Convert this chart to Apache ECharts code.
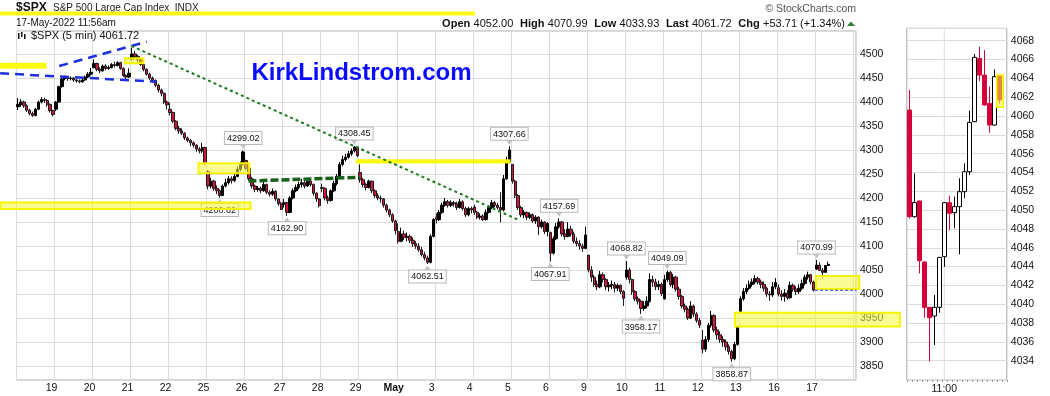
<!DOCTYPE html>
<html><head><meta charset="utf-8">
<script src="https://cdn.jsdelivr.net/npm/echarts@6/dist/echarts.min.js"></script>
<style>html,body{margin:0;padding:0;background:#fff}#c{width:1050px;height:396px}</style>
</head><body><div id="c"></div><script>
// ---- tick labels ----
const dayLabels = ['', '19','20','21','22','25','26','27','28','29','May','3','4','5','6','9','10','11','12','13','16','17'];
// ---- 30-minute candles [open, close, low, high], 13 per session ----
const d0418 = [[4390,4395,4383,4408],[4395,4400,4390,4406],[4400,4392,4388,4403],[4392,4383,4379,4395],[4383,4376,4372,4386],[4376,4372,4369,4380],[4372,4385,4370,4388],[4385,4400,4383,4403],[4400,4405,4397,4410],[4405,4403,4398,4409],[4403,4395,4390,4406],[4395,4382,4378,4397],[4382,4374,4370,4384]];
const d0419 = [[4385,4400,4381,4402],[4400,4432,4398,4434],[4432,4448,4430,4451],[4448,4452,4445,4455],[4452,4449,4444,4454],[4449,4450,4445,4453],[4450,4446,4442,4452],[4446,4444,4440,4449],[4444,4442,4439,4447],[4442,4446,4440,4449],[4446,4452,4444,4455],[4452,4458,4450,4462],[4458,4462,4455,4471]];
const d0420 = [[4472,4480,4470,4489],[4480,4468,4464,4482],[4468,4465,4460,4472],[4465,4475,4463,4478],[4475,4470,4466,4479],[4470,4472,4467,4476],[4472,4478,4470,4481],[4478,4476,4472,4484],[4476,4482,4474,4485],[4482,4470,4467,4484],[4470,4455,4452,4472],[4455,4452,4448,4458],[4452,4460,4450,4470]];
const d0421 = [[4489,4500,4486,4513],[4500,4495,4490,4506],[4495,4488,4484,4498],[4488,4478,4475,4490],[4478,4468,4464,4480],[4468,4458,4455,4470],[4458,4450,4446,4461],[4450,4445,4440,4453],[4445,4435,4431,4447],[4435,4425,4420,4438],[4425,4418,4412,4428],[4418,4400,4396,4420],[4400,4394,4384,4403]];
const d0422 = [[4385,4378,4372,4398],[4378,4360,4356,4380],[4360,4345,4341,4362],[4345,4340,4334,4350],[4340,4335,4331,4345],[4335,4325,4321,4337],[4325,4320,4316,4328],[4320,4315,4308,4323],[4315,4310,4305,4318],[4310,4302,4296,4312],[4302,4298,4293,4306],[4298,4305,4294,4315],[4305,4272,4268,4307]];
const d0425 = [[4255,4225,4218,4258],[4225,4235,4220,4242],[4235,4220,4215,4238],[4220,4215,4208,4226],[4215,4205,4200.82,4218],[4205,4225,4204,4228],[4225,4232,4222,4240],[4232,4240,4228,4246],[4240,4236,4230,4245],[4236,4245,4233,4250],[4245,4260,4243,4266],[4260,4270,4256,4276],[4270,4296,4268,4299.02]];
const d0426 = [[4278,4262,4258,4280],[4262,4240,4236,4265],[4240,4225,4220,4244],[4225,4218,4212,4228],[4218,4220,4213,4225],[4220,4215,4210,4224],[4215,4228,4213,4234],[4228,4212,4208,4230],[4212,4208,4203,4216],[4208,4214,4204,4220],[4214,4198,4194,4216],[4198,4188,4184,4200],[4188,4176,4175,4192]];
const d0427 = [[4187,4190,4180,4198],[4190,4170,4162.90,4192],[4170,4200,4168,4204],[4200,4215,4197,4220],[4215,4222,4212,4228],[4222,4228,4218,4234],[4228,4232,4222,4240],[4232,4225,4220,4236],[4225,4235,4223,4239],[4235,4228,4224,4238],[4228,4210,4205,4230],[4210,4198,4192,4212],[4198,4184,4180,4200]];
const d0428 = [[4222,4220,4212,4230],[4220,4200,4195,4222],[4200,4195,4188,4205],[4195,4215,4192,4218],[4215,4230,4212,4236],[4230,4245,4226,4250],[4245,4270,4242,4275],[4270,4280,4266,4288],[4280,4285,4276,4292],[4285,4292,4282,4298],[4292,4298,4288,4303],[4298,4306,4295,4308.45],[4306,4288,4285,4307]];
const d0429 = [[4253,4238,4232,4270],[4238,4228,4222,4242],[4228,4222,4216,4232],[4222,4235,4220,4238],[4235,4215,4210,4236],[4215,4205,4200,4218],[4205,4200,4195,4210],[4200,4198,4190,4205],[4198,4185,4180,4200],[4185,4175,4170,4188],[4175,4165,4160,4178],[4165,4152,4148,4168],[4152,4132,4124,4155]];
const d0502 = [[4130,4110,4105,4147],[4110,4125,4108,4138],[4125,4118,4112,4132],[4118,4120,4110,4128],[4120,4112,4106,4124],[4112,4105,4098,4118],[4105,4100,4094,4110],[4100,4092,4088,4106],[4092,4082,4078,4098],[4082,4075,4070,4088],[4075,4066,4062.51,4080],[4066,4120,4064,4124],[4120,4155,4118,4158]];
const d0503 = [[4160,4155,4147,4168],[4155,4170,4152,4175],[4170,4185,4167,4190],[4185,4192,4182,4200],[4192,4185,4180,4196],[4185,4190,4181,4195],[4190,4188,4182,4194],[4188,4180,4175,4192],[4180,4192,4178,4198],[4192,4178,4174,4195],[4178,4165,4160,4182],[4165,4178,4162,4182],[4178,4175,4168,4182]];
const d0504 = [[4181,4170,4165,4186],[4170,4160,4156,4173],[4160,4162,4155,4168],[4162,4155,4152,4166],[4155,4170,4153,4176],[4170,4180,4168,4185],[4180,4190,4177,4196],[4190,4185,4180,4194],[4185,4180,4176,4190],[4180,4175,4149,4212],[4175,4240,4172,4248],[4240,4275,4238,4286],[4275,4300,4272,4307.66]];
const d0505 = [[4270,4235,4230,4270],[4235,4205,4200,4238],[4205,4180,4175,4208],[4180,4165,4160,4184],[4165,4170,4158,4175],[4170,4160,4154,4172],[4160,4165,4156,4170],[4165,4152,4148,4168],[4152,4160,4146,4164],[4160,4140,4123,4162],[4140,4150,4136,4155],[4150,4130,4125,4152],[4130,4147,4120,4150]];
const d0506 = [[4128,4085,4067.91,4130],[4085,4115,4082,4120],[4115,4140,4112,4148],[4140,4150,4136,4157.69],[4150,4125,4120,4152],[4125,4120,4113,4135],[4120,4135,4118,4150],[4135,4125,4120,4142],[4125,4110,4105,4130],[4110,4105,4099,4118],[4105,4100,4092,4112],[4100,4095,4088,4105],[4095,4123,4093,4140]];
const d0509 = [[4081,4050,4045,4081],[4050,4035,4025,4058],[4035,4020,4015,4040],[4020,4015,4008,4028],[4015,4040,4012,4048],[4040,4030,4024,4045],[4030,4015,4008,4033],[4015,4018,4005,4025],[4018,4020,4010,4028],[4020,4012,4003,4025],[4012,4018,4006,4022],[4018,4005,4000,4020],[4005,3991,3975,4008]];
const d0510 = [[4035,4050,4030,4068.82],[4050,4030,4022,4055],[4030,4005,3998,4032],[4005,3990,3985,4008],[3990,3985,3978,3995],[3985,3970,3958.17,3988],[3970,3975,3965,3985],[3975,3985,3970,3995],[3985,4030,3982,4043],[4030,4025,4015,4038],[4025,4015,4008,4032],[4015,4020,4008,4028],[4020,4001,3996,4024]];
const d0511 = [[3990,4030,3988,4040],[4030,4045,4025,4049.09],[4045,4020,4015,4048],[4020,4035,4012,4042],[4035,4010,4005,4038],[4010,3995,3988,4015],[3995,3975,3970,3998],[3975,3968,3962,3980],[3968,3950,3946,3972],[3950,3975,3948,3985],[3975,3958,3952,3978],[3958,3945,3940,3962],[3945,3935,3929,3950]];
const d0512 = [[3904,3885,3876,3925],[3885,3905,3880,3912],[3905,3935,3900,3940],[3935,3955,3930,3964.8],[3955,3925,3920,3958],[3925,3915,3905,3932],[3915,3905,3898,3922],[3905,3900,3890,3912],[3900,3890,3882,3905],[3890,3880,3874,3895],[3880,3865,3858.87,3884],[3865,3895,3862,3900],[3895,3930,3892,3934]];
const d0513 = [[3964,3990,3963.9,3995],[3990,4005,3986,4012],[4005,4012,4000,4020],[4012,4020,4008,4028],[4020,4025,4015,4032],[4025,4032,4020,4038.88],[4032,4025,4020,4036],[4025,4020,4012,4030],[4020,4012,4005,4026],[4012,4000,3994,4015],[4000,3998,3986,4006],[3998,4015,3994,4025],[4015,4024,4010,4033]];
const d0516 = [[4013,4000,3995,4020],[4000,3995,3986,4008],[3995,4002,3984,4010],[4002,3992,3988,4008],[3992,4018,3990,4026],[4018,4010,4005,4022],[4010,4005,3998,4016],[4005,4012,4000,4020],[4012,4022,4008,4030],[4022,4035,4018,4040],[4035,4040,4030,4046.46],[4040,4025,4020,4042],[4025,4008,4005,4028]];
const d0517 = [[4052,4060,4050,4070.99],[4060,4049.3,4049,4066],[4049.3,4044.98,4033.93,4053.91],[4045.05,4059.32,4043.99,4060.56],[4059.4,4061.72,4058.23,4067.36]];
const sessions = [d0418,d0419,d0420,d0421,d0422,d0425,d0426,d0427,d0428,d0429,d0502,d0503,d0504,d0505,d0506,d0509,d0510,d0511,d0512,d0513,d0516,d0517];

// ---- right panel: 5-minute candles of 17 May ----
const rTimes = ['10:25','10:30','10:35','10:40','10:45','10:50','10:55','11:00','11:05','11:10','11:15','11:20','11:25','11:30','11:35','11:40','11:45','11:50','11:55','12:00'];
const rBars = [[4060.63,4049.30,4049.1,4062.76],[4049.30,4050.80,4049.2,4053.91],[4050.97,4044.63,4043.28,4051.0],[4044.49,4039.67,4038.57,4044.6],[4039.67,4038.57,4033.93,4039.7],[4038.75,4039.67,4035.67,4040.98],[4039.67,4044.98,4039.10,4045.0],[4045.05,4050.79,4043.99,4050.85],[4050.79,4049.66,4047.89,4051.53],[4049.73,4050.37,4048.06,4051.43],[4050.37,4051.96,4045.30,4053.38],[4051.96,4054.08,4051.25,4054.97],[4054.08,4059.32,4053.73,4060.56],[4059.40,4066.23,4059.35,4066.58],[4066.12,4064.35,4063.72,4067.36],[4064.35,4061.17,4061.10,4067.00],[4061.34,4059.04,4058.23,4063.11],[4059.04,4064.18,4059.00,4064.95],[4064.25,4061.72,4061.34,4064.30]];

// ---- callouts [barIndex, price, side] ----
const callouts = [[77,4299.02,'top'],[69,4200.82,'bottom'],[92,4162.90,'bottom'],[115,4308.45,'top'],[140,4062.51,'bottom'],[168,4307.66,'top'],[185,4157.69,'top'],[182,4067.91,'bottom'],[208,4068.82,'top'],[213,3958.17,'bottom'],[222,4049.09,'top'],[244,3858.87,'bottom'],[273,4070.99,'top']];
// ---- hand-drawn annotations in data space [barIndex, price] ----
const blueDashed = [[[14.1,4475],[44.0,4525.6]],[[-6.1,4459.8],[47.4,4442.3]]];
const greenDotted = [[38.8,4516.7],[171.6,4153]];
const greenDashed = [[78.8,4235.4],[116.9,4243.1]];
const blueDotted = [[272.5,4007.7],[286.7,4007.7]];
const solidBands = [[-6.1,9.8,4481.9,4469.4],[115.5,168.4,4280.6,4271.9]];
const softBands = [[36.6,42.9,4491,4480.6],[61.7,79.1,4272.3,4251.5],[-6.1,79.5,4190.6,4177.1],[245.1,301.5,3961,3932.3],[272.8,287.6,4037.5,4010.4]];
const rightBand = [17.48,18.8,4064.35,4060.92];

const FF = '"Liberation Sans", Arial, sans-serif';
const RED = '#d4143c';
const cats = [], mainData = [];
sessions.forEach((s, d) => { for (let k = 0; k < 13; k++) { cats.push(k === 0 ? 'D' + d : d + '_' + k); mainData.push(s[k] ? s[k] : '-'); } });
cats.push('end'); mainData.push('-');
const rData = rTimes.map((t, i) => rBars[i] ? rBars[i] : '-');

const chart = echarts.init(document.getElementById('c'), null, {renderer: 'canvas'});
chart.setOption({
  animation: false,
  textStyle: {fontFamily: FF},
  grid: [
    {left: 16.5, right: 194, top: 31, bottom: 16, show: true, borderColor: '#a8a8a8', borderWidth: 1},
    {left: 906.8, right: 43.2, top: 28.3, bottom: 16, show: true, borderColor: '#a8a8a8', borderWidth: 1}
  ],
  xAxis: [
    {type: 'category', gridIndex: 0, data: cats, boundaryGap: true,
     axisLine: {show: false}, axisTick: {show: false},
     splitLine: {show: true, interval: (i) => i % 13 === 0, lineStyle: {color: '#dcdcdc', width: 1}},
     axisLabel: {interval: (i) => i % 13 === 0 && i > 0 && i / 13 < dayLabels.length,
       formatter: (v) => { if (v[0] !== 'D') return ''; const d = +v.slice(1); return d === 10 ? '{b|May}' : dayLabels[d]; },
       margin: 3, fontSize: 10.5, color: '#111', fontFamily: FF, padding: [0, 9, 0, 0],
       rich: {b: {fontWeight: 'bold', fontSize: 10.5, fontFamily: FF, color: '#111'}}}},
    {type: 'category', gridIndex: 1, data: rTimes, boundaryGap: true,
     axisLine: {show: false}, axisTick: {show: true, interval: 0, length: 2, lineStyle: {color: '#999'}},
     splitLine: {show: false},
     axisLabel: {interval: (i) => rTimes[i] === '11:00', margin: 4, fontSize: 10.5, color: '#111', fontFamily: FF}}
  ],
  yAxis: [
    {type: 'value', gridIndex: 0, position: 'right', min: 3820.8, max: 4547.9, splitNumber: 14,
     axisLine: {show: false}, axisTick: {show: false},
     splitLine: {show: true, lineStyle: {color: '#dcdcdc'}},
     axisLabel: {showMinLabel: false, showMaxLabel: false, margin: 4, fontSize: 10.5, color: '#111', fontFamily: FF,
       formatter: (v) => v.toFixed(0)}},
    {type: 'value', gridIndex: 1, position: 'right', min: 4031.95, max: 4069.32, splitNumber: 18,
     axisLine: {show: false}, axisTick: {show: false},
     splitLine: {show: true, lineStyle: {color: '#dcdcdc'}},
     axisLabel: {showMinLabel: false, showMaxLabel: false, margin: 4, fontSize: 10.5, color: '#111', fontFamily: FF,
       formatter: (v) => (v < 4033 ? '' : v.toFixed(0))}}
  ],
  series: [
    {type: 'candlestick', xAxisIndex: 0, yAxisIndex: 0, data: mainData, barWidth: 2.9,
     itemStyle: {color: '#000', color0: RED, borderColor: '#000', borderColor0: '#1a1a1a', borderWidth: 1},
     markPoint: {
       symbol: 'triangle', symbolSize: [7, 5], itemStyle: {color: '#c4c4c4'},
       data: callouts.map(([i, v, side]) => ({
         coord: [i, v], value: v.toFixed(2),
         symbolRotate: side === 'top' ? 180 : 0, symbolOffset: [0, side === 'top' ? -4 : 4],
         label: {show: true, position: side, distance: 0, formatter: v.toFixed(2),
           backgroundColor: '#fff', borderColor: '#b8b8b8', borderWidth: 1, padding: [2, 2, 1, 2],
           fontSize: 9, fontFamily: FF, color: '#111'}
       }))
     }},
    {type: 'candlestick', xAxisIndex: 1, yAxisIndex: 1, data: rData, barWidth: 4,
     itemStyle: {color: '#fff', color0: '#d4003a', borderColor: '#000', borderColor0: '#d4003a', borderWidth: 1}}
  ]
});

// ---- overlay annotations placed through the axes ----
const X0 = chart.convertToPixel({xAxisIndex: 0}, 0);
const X1 = chart.convertToPixel({xAxisIndex: 0}, 286);
const xp = (i) => X0 + (X1 - X0) * i / 286;
const yp = (v) => chart.convertToPixel({yAxisIndex: 0}, v);
const R0 = chart.convertToPixel({xAxisIndex: 1}, 0);
const R1 = chart.convertToPixel({xAxisIndex: 1}, 19);
const xr = (i) => R0 + (R1 - R0) * i / 19;
const yr = (v) => chart.convertToPixel({yAxisIndex: 1}, v);

const g = [];
const line = (a, b, stroke, w, dash) => g.push({type: 'line', z: 20, silent: true,
  shape: {x1: xp(a[0]), y1: yp(a[1]), x2: xp(b[0]), y2: yp(b[1])},
  style: {stroke: stroke, lineWidth: w, lineDash: dash}});
solidBands.forEach(([a, b, hi, lo]) => g.push({type: 'rect', z: 15, silent: true,
  shape: {x: xp(a), y: yp(hi), width: xp(b) - xp(a), height: yp(lo) - yp(hi)},
  style: {fill: 'rgba(250,250,0,0.95)'}}));
softBands.forEach(([a, b, hi, lo]) => g.push({type: 'rect', z: 15, silent: true,
  shape: {x: xp(a), y: yp(hi), width: xp(b) - xp(a), height: yp(lo) - yp(hi)},
  style: {fill: 'rgba(248,248,60,0.55)', stroke: 'rgba(245,245,0,1)', lineWidth: 2}}));
blueDashed.forEach(([a, b]) => line(a, b, '#1c2ee0', 2.5, [9, 6]));
line(greenDotted[0], greenDotted[1], '#1f7a1f', 2, [3, 3]);
line(greenDashed[0], greenDashed[1], '#17601a', 3.5, [8, 3]);
line(blueDotted[0], blueDotted[1], '#1c3cff', 1, [3, 2]);
// right panel: 11:00 grid line and highlighted last candle
const x11 = chart.convertToPixel({xAxisIndex: 1}, '11:00');
g.push({type: 'line', z: 1, silent: true, shape: {x1: x11, y1: 28.3, x2: x11, y2: 380}, style: {stroke: '#dcdcdc', lineWidth: 1}});
g.push({type: 'rect', z: 15, silent: true,
  shape: {x: xr(rightBand[0]), y: yr(rightBand[2]), width: xr(rightBand[1]) - xr(rightBand[0]), height: yr(rightBand[3]) - yr(rightBand[2])},
  style: {fill: 'rgba(248,248,60,0.55)', stroke: 'rgba(245,245,0,1)', lineWidth: 1.5}});
// header and labels
g.push({type: 'text', z: 5, style: {text: '$SPX', x: 16, y: 8, verticalAlign: 'middle', font: 'bold 12px ' + FF, fill: '#111'}});
g.push({type: 'text', z: 5, style: {text: 'S&P 500 Large Cap Index  INDX', x: 53, y: 8.5, verticalAlign: 'middle', font: '10px ' + FF, fill: '#222'}});
g.push({type: 'rect', z: 16, silent: true, shape: {x: 0, y: 11.5, width: 475, height: 4}, style: {fill: 'rgba(248,248,0,0.9)'}});
g.push({type: 'text', z: 5, style: {text: '17-May-2022 11:56am', x: 16, y: 23.5, verticalAlign: 'middle', font: '10px ' + FF, fill: '#111'}});
g.push({type: 'text', z: 5, style: {text: '\u00a9 StockCharts.com', x: 856, y: 9, align: 'right', verticalAlign: 'middle', font: '10.5px ' + FF, fill: '#555'}});
g.push({type: 'text', z: 5, style: {
  text: '{b|Open} {n|4052.00}  {b|High} {n|4070.99}  {b|Low} {n|4033.93}  {b|Last} {n|4061.72}  {b|Chg} {n|+53.71 (+1.34%)}',
  x: 845, y: 23.5, align: 'right', verticalAlign: 'middle',
  rich: {b: {font: 'bold 11px ' + FF, fill: '#111'}, n: {font: '11px ' + FF, fill: '#111'}}}});
g.push({type: 'polygon', z: 5, shape: {points: [[847, 26], [855, 26], [851, 21.5]]}, style: {fill: '#2e7d32'}});
g.push({type: 'rect', z: 5, shape: {x: 18, y: 33, width: 1.5, height: 6}, style: {fill: '#111'}});
g.push({type: 'rect', z: 5, shape: {x: 21, y: 32, width: 1.5, height: 5}, style: {fill: '#111'}});
g.push({type: 'rect', z: 5, shape: {x: 24, y: 34, width: 1.5, height: 5}, style: {fill: '#111'}});
g.push({type: 'text', z: 5, style: {text: '$SPX (5 min) 4061.72', x: 31, y: 35.5, verticalAlign: 'middle', font: '11px ' + FF, fill: '#111'}});
g.push({type: 'text', z: 5, style: {text: 'KirkLindstrom.com', x: 251.5, y: 73.5, verticalAlign: 'middle', font: 'bold 24px ' + FF, fill: '#0a0aff'}});
chart.setOption({graphic: {elements: g}});
</script></body></html>
